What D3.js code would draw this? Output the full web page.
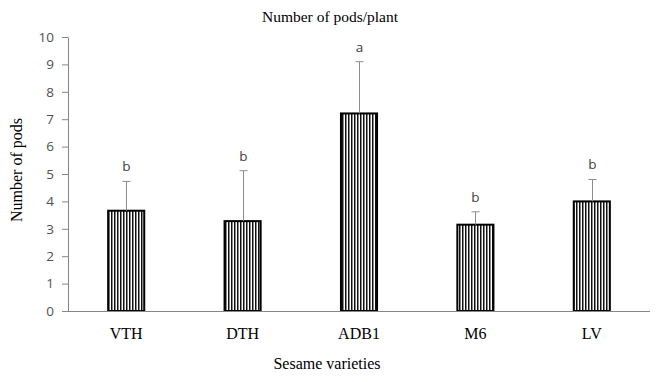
<!DOCTYPE html>
<html>
<head>
<meta charset="utf-8">
<script src="https://cdn.jsdelivr.net/npm/d3@7"></script>
<style>
  body { margin: 0; background: #fff; }
  svg { display: block; }
</style>
</head>
<body>
<div id="chart"></div>
<script>
// Chart data
const varieties = ["VTH", "DTH", "ADB1", "M6", "LV"];
const podMeans = [3.66, 3.28, 7.21, 3.15, 4.0];
const podErrors = [1.07, 1.84, 1.89, 0.47, 0.8];
const groupLetters = ["b", "b", "a", "b", "b"];
const yTicks = [0, 1, 2, 3, 4, 5, 6, 7, 8, 9, 10];

const width = 656;
const height = 382;
const margin = { top: 37, right: 6, bottom: 71, left: 68 };

const svg = d3.select("#chart")
    .append("svg")
    .attr("width", width)
    .attr("height", height);

// Vertical stripe fill for the bars
const defs = svg.append("defs");
const pattern = defs.append("pattern")
    .attr("id", "stripes")
    .attr("patternUnits", "userSpaceOnUse")
    .attr("width", 3)
    .attr("height", 10);
pattern.append("rect")
    .attr("width", 3).attr("height", 10)
    .attr("fill", "#fff");
pattern.append("rect")
    .attr("x", 0).attr("width", 1.5).attr("height", 10)
    .attr("fill", "#111");

const x = d3.scaleBand()
    .domain(varieties)
    .range([margin.left, width - margin.right])
    .paddingInner(0.69)
    .paddingOuter(0.345);

const y = d3.scaleLinear()
    .domain([0, 10])
    .range([height - margin.bottom, margin.top]);

// Y axis
const yAxis = svg.append("g")
    .attr("transform", `translate(${margin.left},0)`)
    .call(d3.axisLeft(y).tickValues(yTicks).tickSize(6).tickSizeOuter(0).tickPadding(8));
yAxis.select(".domain").attr("stroke", "#868686");
yAxis.selectAll(".tick line").attr("stroke", "#868686");
yAxis.selectAll(".tick text")
    .attr("fill", "#505050")
    .attr("font-family", "'Open Sans', 'Noto Sans', sans-serif")
    .attr("font-size", "13.5px");

// Bars
svg.selectAll(".bar")
    .data(varieties)
    .join("rect")
    .attr("class", "bar")
    .attr("x", d => x(d))
    .attr("y", (d, i) => y(podMeans[i]))
    .attr("width", x.bandwidth())
    .attr("height", (d, i) => y(0) - y(podMeans[i]))
    .attr("fill", "url(#stripes)")
    .attr("stroke", "#000")
    .attr("stroke-width", 2);

// Error bars (upper only)
const errG = svg.append("g").attr("stroke", "#8c8c8c").attr("stroke-width", 1);
varieties.forEach((v, i) => {
    const cx = Math.round(x(v) + x.bandwidth() / 2) + 0.5;
    const top = y(podMeans[i] + podErrors[i]);
    errG.append("line")
        .attr("x1", cx).attr("x2", cx)
        .attr("y1", y(podMeans[i])).attr("y2", top);
    errG.append("line")
        .attr("x1", cx - 4).attr("x2", cx + 4)
        .attr("y1", top).attr("y2", top);
    svg.append("text")
        .attr("x", cx)
        .attr("y", top - 10)
        .attr("text-anchor", "middle")
        .attr("fill", "#404040")
        .attr("font-family", "'Open Sans', 'Noto Sans', sans-serif")
        .attr("font-size", "13.5px")
        .text(groupLetters[i]);
});

// X axis line
svg.append("line")
    .attr("x1", margin.left).attr("x2", width - margin.right)
    .attr("y1", y(0) + 0.5).attr("y2", y(0) + 0.5)
    .attr("stroke", "#868686");

// X category labels
svg.selectAll(".xlab")
    .data(varieties)
    .join("text")
    .attr("class", "xlab")
    .attr("x", d => x(d) + x.bandwidth() / 2)
    .attr("y", y(0) + 28)
    .attr("text-anchor", "middle")
    .attr("font-family", "'Liberation Serif', 'Times New Roman', serif")
    .attr("font-size", "16px")
    .attr("fill", "#000")
    .text(d => d);

// Title and axis titles
svg.append("text")
    .attr("x", 330)
    .attr("y", 22)
    .attr("text-anchor", "middle")
    .attr("font-family", "'Liberation Serif', 'Times New Roman', serif")
    .attr("font-size", "15.5px")
    .text("Number of pods/plant");

svg.append("text")
    .attr("x", 327)
    .attr("y", 369)
    .attr("text-anchor", "middle")
    .attr("font-family", "'Liberation Serif', 'Times New Roman', serif")
    .attr("font-size", "16px")
    .text("Sesame varieties");

svg.append("text")
    .attr("transform", "translate(22,170) rotate(-90)")
    .attr("text-anchor", "middle")
    .attr("font-family", "'Liberation Serif', 'Times New Roman', serif")
    .attr("font-size", "16px")
    .text("Number of pods");
</script>
</body>
</html>
